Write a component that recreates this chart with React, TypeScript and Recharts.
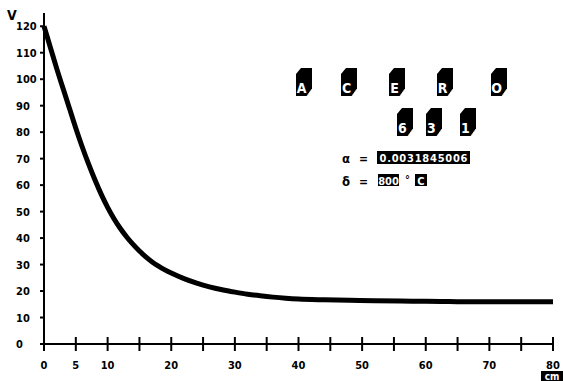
import React from "react";
import { LineChart, Line, XAxis, YAxis } from "recharts";

const distances = [0, 1, 2, 3, 4, 5, 6, 7, 8, 9, 10, 11, 12, 13, 14, 15, 16, 17, 18, 19, 20, 22, 24, 26, 28, 30, 32, 34, 36, 38, 40, 44, 48, 52, 56, 60, 65, 70, 75, 80];
const voltages = [120, 112, 104, 96.5, 89, 81.5, 74.5, 68, 62, 56.5, 51.6, 47.3, 43.6, 40.4, 37.6, 35.1, 32.9, 31.0, 29.4, 28.0, 26.8, 24.7, 23.0, 21.6, 20.5, 19.6, 18.8, 18.2, 17.7, 17.3, 17.0, 16.7, 16.5, 16.3, 16.2, 16.1, 16, 16, 16, 16];

const xTicks = [0, 5, 10, 15, 20, 25, 30, 35, 40, 45, 50, 55, 60, 65, 70, 75, 80];
const xTickLabels = [0, 5, 10, 20, 30, 40, 50, 60, 70, 80];
const yTicks = [0, 10, 20, 30, 40, 50, 60, 70, 80, 90, 100, 110, 120];

const titleWord = ["A", "C", "E", "R", "O"];
const titleNumber = ["6", "3", "1"];
const alphaText = "0.0031845006";
const tempText = "800";

const data = distances.map((d, i) => ({ d, v: voltages[i] }));

const FONT = "'DejaVu Sans Condensed', 'DejaVu Sans', sans-serif";

const XTick = (props: any) => {
  const { x, y, payload } = props;
  const show = xTickLabels.includes(payload.value);
  return (
    <g>
      <line x1={x} x2={x} y1={y - 7} y2={y + 7} stroke="#000" strokeWidth={2} />
      {show && (
        <text x={x} y={y + 25} textAnchor="middle" fontFamily={FONT} fontWeight="bold" fontSize={11} fill="#000">
          {payload.value}
        </text>
      )}
    </g>
  );
};

const YTick = (props: any) => {
  const { x, y, payload } = props;
  return (
    <g>
      <line x1={x - 4} x2={x} y1={y} y2={y} stroke="#000" strokeWidth={2} />
      <text x={16} y={y + 4} textAnchor="start" fontFamily={FONT} fontWeight="bold" fontSize={11} fill="#000">
        {payload.value}
      </text>
    </g>
  );
};

const BlockLetter = ({ x, y, ch }: { x: number; y: number; ch: string }) => (
  <g>
    <polygon
      points={`${x},${y + 6} ${x + 5},${y} ${x + 16},${y} ${x + 16},${y + 21} ${x + 11},${y + 28} ${x},${y + 28}`}
      fill="#000"
    />
    <line x1={x + 11} y1={y + 28} x2={x + 16} y2={y + 21} stroke="#fff" strokeWidth={0.8} />
    <text x={x + 5.5} y={y + 25} textAnchor="middle" fontFamily={FONT} fontWeight="bold" fontSize={14} fill="#fff">
      {ch}
    </text>
  </g>
);

const wordX = [296, 341, 389, 437, 491];
const numX = [397, 426, 460];

export default function App() {
  return (
    <div style={{ position: "absolute", left: 0, top: 0, width: 563, height: 381, background: "#fff" }}>
      <LineChart width={563} height={381} data={data} margin={{ top: 13, right: 10, left: 0, bottom: 0 }}>
        <XAxis
          dataKey="d"
          type="number"
          domain={[0, 80]}
          ticks={xTicks}
          height={37}
          tickSize={0}
          tickMargin={0}
          tickLine={false}
          axisLine={{ stroke: "#000", strokeWidth: 2 }}
          tick={<XTick />}
          interval={0}
        />
        <YAxis
          type="number"
          domain={[0, 125]}
          ticks={yTicks}
          width={44}
          tickSize={0}
          tickMargin={0}
          tickLine={false}
          axisLine={{ stroke: "#000", strokeWidth: 2 }}
          tick={<YTick />}
          interval={0}
        />
        <Line
          dataKey="v"
          type="monotone"
          stroke="#000"
          strokeWidth={5}
          dot={false}
          isAnimationActive={false}
        />
      </LineChart>
      <svg
        width={563}
        height={381}
        style={{ position: "absolute", left: 0, top: 0, pointerEvents: "none" }}
      >
        <text x={7} y={20} fontFamily={FONT} fontWeight="bold" fontSize={14} fill="#000">V</text>
        {titleWord.map((c, i) => (
          <BlockLetter key={"w" + i} x={wordX[i]} y={68} ch={c} />
        ))}
        {titleNumber.map((c, i) => (
          <BlockLetter key={"n" + i} x={numX[i]} y={108} ch={c} />
        ))}
        <text x={342} y={163} fontFamily={FONT} fontWeight="bold" fontSize={13} fill="#000">α</text>
        <text x={359} y={163} fontFamily={FONT} fontWeight="bold" fontSize={12} fill="#000">=</text>
        <rect x={377} y={151} width={93} height={13} fill="#000" />
        <text x={423.5} y={162} textAnchor="middle" fontFamily={FONT} fontWeight="bold" fontSize={11} fill="#fff" textLength={88}>
          {alphaText}
        </text>
        <text x={342} y={186} fontFamily={FONT} fontWeight="bold" fontSize={13} fill="#000">δ</text>
        <text x={359} y={186} fontFamily={FONT} fontWeight="bold" fontSize={12} fill="#000">=</text>
        <rect x={378} y={174} width={21} height={12} fill="#000" />
        <text x={388.5} y={184.5} textAnchor="middle" fontFamily={FONT} fontWeight="bold" fontSize={11} fill="#fff">
          {tempText}
        </text>
        <text x={405} y={183} fontFamily={FONT} fontWeight="bold" fontSize={11} fill="#000">°</text>
        <rect x={415} y={174} width={12} height={12} fill="#000" />
        <text x={421} y={184.5} textAnchor="middle" fontFamily={FONT} fontWeight="bold" fontSize={11} fill="#fff">C</text>
        <rect x={541} y={371} width={22} height={10} fill="#000" />
        <text x={552} y={379.5} textAnchor="middle" fontFamily={FONT} fontWeight="bold" fontSize={10} fill="#fff">cm</text>
      </svg>
    </div>
  );
}
